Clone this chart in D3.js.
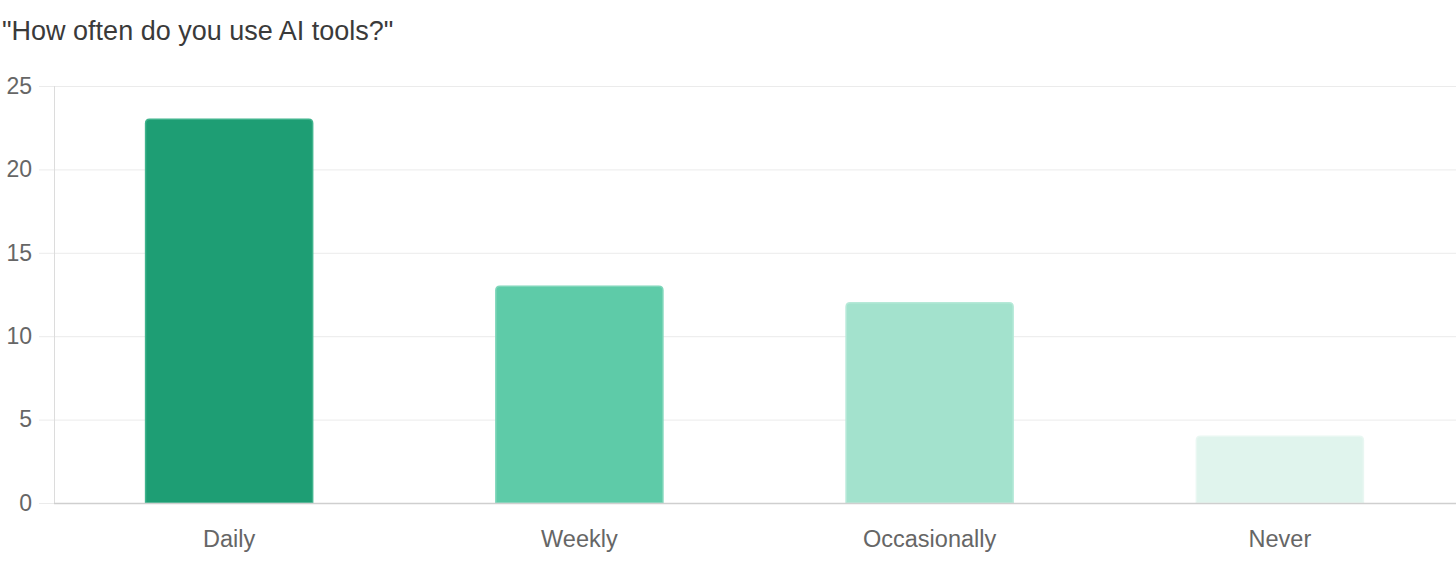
<!DOCTYPE html>
<html lang="en">
<head>
    <meta charset="UTF-8">
    <title>How often do you use AI tools?</title>
    <style>
        body { margin: 0; background: #fff; }
        #chart-container { width: 1456px; height: 576px; }
        text { font-family: "Liberation Sans", Arial, Helvetica, sans-serif; }
    </style>
    <script src="https://cdnjs.cloudflare.com/ajax/libs/d3/7.8.5/d3.min.js"></script>
</head>
<body>
    <div id="chart-container"></div>

    <script>
        // Survey answers and counts
        const categories = ["Daily", "Weekly", "Occasionally", "Never"];
        const counts = [23, 13, 12, 4];
        const yTicks = [0, 5, 10, 15, 20, 25];
        const barColors = ["#1e9e74", "#5ecba8", "#a3e2cd", "#e0f4ed"];
        const barStrokes = ["#3fb38c", "#7fd6ba", "#b6e9d8", "#e9f7f2"];

        const data = categories.map((c, i) => ({ category: c, value: counts[i] }));

        const totalWidth = 1456, totalHeight = 576;
        const margin = { top: 86, right: 1, bottom: 73, left: 54 };
        const width = totalWidth - margin.left - margin.right;
        const height = totalHeight - margin.top - margin.bottom;

        const svg = d3.select("#chart-container")
            .append("svg")
            .attr("width", totalWidth)
            .attr("height", totalHeight);

        // Title
        svg.append("text")
            .attr("x", 2)
            .attr("y", 40)
            .attr("font-size", 27)
            .attr("fill", "#3a3a3a")
            .text('"How often do you use AI tools?"');

        const g = svg.append("g")
            .attr("transform", `translate(${margin.left}, ${margin.top})`);

        const xScale = d3.scaleBand()
            .domain(categories)
            .range([0, width])
            .paddingInner(0.523)
            .paddingOuter(0.2615);

        const yScale = d3.scaleLinear()
            .domain([0, 25])
            .range([height, 0]);

        // Gridlines
        g.append("g")
            .selectAll("line")
            .data(yTicks.filter(t => t > 0))
            .join("line")
            .attr("x1", 0)
            .attr("x2", width + margin.right)
            .attr("y1", d => yScale(d) + 0.5)
            .attr("y2", d => yScale(d) + 0.5)
            .attr("stroke", "#ebebeb");

        // Y axis
        const yAxis = g.append("g")
            .call(d3.axisLeft(yScale).tickValues(yTicks).tickSize(15).tickPadding(7));
        yAxis.select(".domain").attr("stroke", "#dcdcdc").attr("d", `M0.5,${height}V0`);
        yAxis.selectAll(".tick line").attr("stroke", "#ebebeb");
        yAxis.selectAll(".tick text")
            .attr("font-size", 23)
            .attr("fill", "#666")
            .attr("font-family", "Liberation Sans, Arial, sans-serif");

        // Bars with rounded top corners
        const r = 4;
        g.append("g")
            .selectAll("path")
            .data(data)
            .join("path")
            .attr("d", d => {
                const x0 = xScale(d.category), x1 = x0 + xScale.bandwidth();
                const y0 = yScale(d.value), yb = yScale(0);
                return `M${x0},${yb}V${y0 + r}Q${x0},${y0} ${x0 + r},${y0}H${x1 - r}Q${x1},${y0} ${x1},${y0 + r}V${yb}Z`;
            })
            .attr("fill", (d, i) => barColors[i])
            .attr("stroke", (d, i) => barStrokes[i])
            .attr("stroke-width", 1.5);

        // X axis
        const xAxis = g.append("g")
            .attr("transform", `translate(0, ${height})`)
            .call(d3.axisBottom(xScale).tickSize(0));
        xAxis.select(".domain").attr("stroke", "#cfcfcf").attr("stroke-width", 1.5)
            .attr("d", `M0,0.5H${width + margin.right}`);
        xAxis.selectAll(".tick text")
            .attr("y", 44)
            .attr("dy", 0)
            .attr("font-size", 23.5)
            .attr("fill", "#666")
            .attr("font-family", "Liberation Sans, Arial, sans-serif");
    </script>
</body>
</html>
